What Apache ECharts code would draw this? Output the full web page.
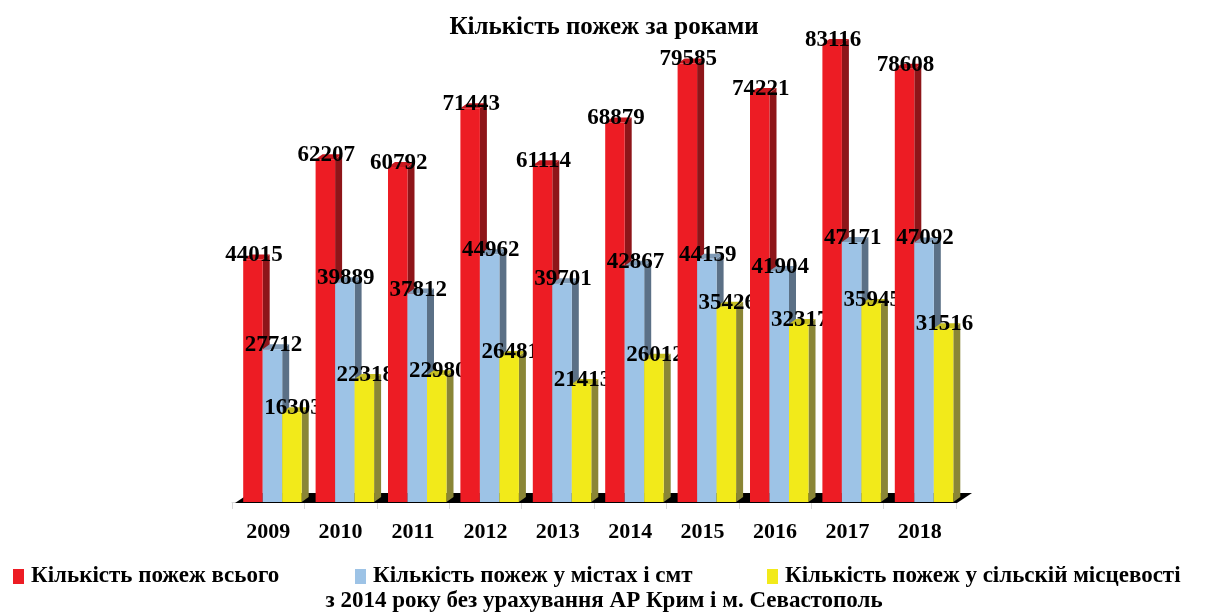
<!DOCTYPE html>
<html><head><meta charset="utf-8">
<script src="https://cdn.jsdelivr.net/npm/echarts@6/dist/echarts.min.js"></script>
<style>html,body{margin:0;padding:0;background:#fff}#c{width:1208px;height:613px}</style>
</head><body><div id="c"></div>
<script>
const years = ['2009','2010','2011','2012','2013','2014','2015','2016','2017','2018'];
const totalFires = [44015, 62207, 60792, 71443, 61114, 68879, 79585, 74221, 83116, 78608];
const urbanFires = [27712, 39889, 37812, 44962, 39701, 42867, 44159, 41904, 47171, 47092];
const ruralFires = [16303, 22318, 22980, 26481, 21413, 26012, 35426, 32317, 35945, 31516];
const seriesNames = ['Кількість пожеж всього', 'Кількість пожеж у містах і смт', 'Кількість пожеж у сільскій місцевості'];
const titleText = 'Кількість пожеж за роками';
const noteText = 'з 2014 року без урахування АР Крим і м. Севастополь';

const palette = [
  {front: '#ED1C24', side: '#8E1519', top: '#C9181F'},
  {front: '#9DC3E6', side: '#5B7086', top: '#7F9AB5'},
  {front: '#F2EA1A', side: '#8A8636', top: '#C6BF22'}
];
const FONT = '"Liberation Serif", "Times New Roman", serif';
const FRONT_W = 19.5, OFFSET0 = -25, DX = 7, DY = -5;

function make3DBar(sIdx) {
  const col = palette[sIdx];
  return function (params, api) {
    const i = api.value(0);
    const v = api.value(1);
    const top = api.coord([i, v]);
    const base = api.coord([i, 0]);
    const x0 = top[0] + OFFSET0 + sIdx * FRONT_W;
    const x1 = x0 + FRONT_W;
    const yt = top[1], yb = base[1];
    const zb = i * 100 + sIdx * 10;
    return {
      type: 'group',
      children: [
        {type: 'polygon', z2: zb,
          shape: {points: [[x1, yt], [x1 + DX, yt + DY], [x1 + DX, yb + DY], [x1, yb]]},
          style: {fill: col.side}},
        {type: 'polygon', z2: zb + 1,
          shape: {points: [[x0, yt], [x0 + DX, yt + DY], [x1 + DX, yt + DY], [x1, yt]]},
          style: {fill: col.top}},
        {type: 'rect', z2: zb + 2,
          shape: {x: x0, y: yt, width: FRONT_W, height: yb - yt},
          style: {fill: col.front}},
        {type: 'text', z2: i * 100 + 50 + sIdx,
          x: (x0 + x1) / 2 + 1, y: yt - 4,
          style: {text: String(v), fill: '#000', font: 'bold 23px ' + FONT,
            textAlign: 'center', textVerticalAlign: 'middle'}}
      ]
    };
  };
}

function floorRender(params, api) {
  const cs = params.coordSys;
  const xl = cs.x + 3, xr = cs.x + cs.width + 1, yb = cs.y + cs.height + 1;
  return {
    type: 'polygon', z2: -10, silent: true,
    shape: {points: [[xl, yb], [xr, yb], [xr + 15, yb - 10], [xl + 15, yb - 10]]},
    style: {fill: '#000'}
  };
}

const valueSets = [totalFires, urbanFires, ruralFires];
const series = [{
  type: 'custom', name: '__floor', renderItem: floorRender, data: [[0, 0]],
  encode: {x: 0, y: 1}, silent: true, z: 1
}];
valueSets.forEach((vals, s) => {
  series.push({
    type: 'custom', name: seriesNames[s],
    renderItem: make3DBar(s),
    itemStyle: {color: palette[s].front},
    encode: {x: 0, y: 1},
    data: vals.map((v, i) => [i, v]),
    z: 2
  });
});

const legendBase = {
  top: 560, icon: 'rect', itemWidth: 11, itemHeight: 15, itemGap: 0,
  textStyle: {fontFamily: FONT, fontWeight: 'bold', fontSize: 23, color: '#000', padding: [0, 0, 0, 2]}
};
const option = {
  animation: false,
  backgroundColor: '#fff',
  title: [
    {text: titleText, left: 'center', top: 10,
      textStyle: {fontFamily: FONT, fontWeight: 'bold', fontSize: 25, color: '#000'}},
    {text: noteText, left: 'center', top: 585,
      textStyle: {fontFamily: FONT, fontWeight: 'bold', fontSize: 23, color: '#000'}}
  ],
  legend: [
    Object.assign({}, legendBase, {left: 8, data: [seriesNames[0]]}),
    Object.assign({}, legendBase, {left: 350, data: [seriesNames[1]]}),
    Object.assign({}, legendBase, {left: 762, data: [seriesNames[2]]})
  ],
  grid: {left: 232, right: 252, top: 6, bottom: 111, containLabel: false},
  xAxis: {
    type: 'category', data: years, boundaryGap: true,
    axisLine: {show: true, lineStyle: {color: '#d9d9d9'}},
    axisTick: {show: true, length: 7, lineStyle: {color: '#d9d9d9'}},
    axisLabel: {fontFamily: FONT, fontWeight: 'bold', fontSize: 22, color: '#000', margin: 19},
    splitLine: {show: false}
  },
  yAxis: {type: 'value', min: 0, max: 90000, show: false},
  series: series
};
const chart = echarts.init(document.getElementById('c'), null, {renderer: 'canvas'});
chart.setOption(option);
</script>
</body></html>
